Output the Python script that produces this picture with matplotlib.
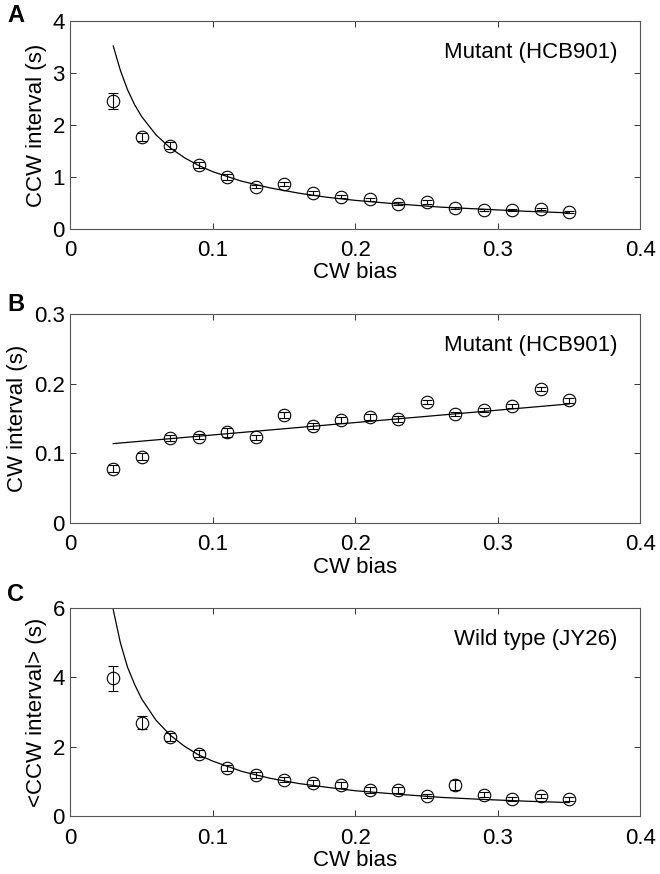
import numpy as np
import matplotlib
matplotlib.use("Agg")
import matplotlib.pyplot as plt
from matplotlib.ticker import FuncFormatter

plt.rcParams['font.family'] = ['Liberation Sans', 'DejaVu Sans']

# CW bias of each data point
bias = [0.03, 0.05, 0.07, 0.09, 0.11, 0.13, 0.15, 0.17, 0.19,
        0.21, 0.23, 0.25, 0.27, 0.29, 0.31, 0.33, 0.35]

# panel A: mutant CCW interval
ccw_mut = [2.46, 1.77, 1.60, 1.23, 1.00, 0.81, 0.86, 0.69, 0.62,
           0.57, 0.49, 0.52, 0.40, 0.36, 0.37, 0.39, 0.32]
ccw_mut_err = [0.16, 0.07, 0.07, 0.06, 0.05, 0.03, 0.04, 0.04, 0.03,
               0.03, 0.03, 0.03, 0.02, 0.02, 0.02, 0.02, 0.02]

# panel B: mutant CW interval
cw_mut = [0.078, 0.095, 0.122, 0.124, 0.130, 0.123, 0.155, 0.139, 0.148,
          0.152, 0.149, 0.174, 0.156, 0.162, 0.168, 0.193, 0.176]
cw_mut_err = [0.005, 0.005, 0.004, 0.004, 0.006, 0.004, 0.004, 0.004, 0.004,
              0.004, 0.004, 0.003, 0.003, 0.003, 0.003, 0.003, 0.003]

# panel C: wild type mean CCW interval
ccw_wt = [3.98, 2.70, 2.29, 1.81, 1.40, 1.19, 1.06, 0.96, 0.91,
          0.77, 0.77, 0.59, 0.91, 0.63, 0.51, 0.58, 0.50]
ccw_wt_err = [0.36, 0.18, 0.12, 0.10, 0.08, 0.08, 0.08, 0.08, 0.08,
              0.08, 0.08, 0.06, 0.14, 0.08, 0.06, 0.06, 0.06]

# fitted curves
fit_x = [0.03, 0.035, 0.04, 0.045, 0.05, 0.06, 0.07, 0.08, 0.09, 0.10,
         0.12, 0.14, 0.16, 0.18, 0.20, 0.23, 0.26, 0.29, 0.32, 0.35]
fit_a = [3.52, 3.05, 2.68, 2.39, 2.16, 1.81, 1.56, 1.37, 1.22, 1.10,
         0.92, 0.79, 0.69, 0.61, 0.55, 0.48, 0.42, 0.38, 0.34, 0.31]
fit_c = [5.95, 5.00, 4.30, 3.80, 3.38, 2.77, 2.34, 2.02, 1.77, 1.59,
         1.30, 1.10, 0.95, 0.84, 0.74, 0.64, 0.55, 0.49, 0.44, 0.40]
line_b_x = [0.03, 0.35]
line_b_y = [0.114, 0.171]

panels = [
    ('A', ccw_mut, ccw_mut_err, fit_x, fit_a, 'CCW interval (s)',
     'Mutant (HCB901)', 4, [0, 1, 2, 3, 4], 0.238, 0.738, 4),
    ('B', cw_mut, cw_mut_err, line_b_x, line_b_y, 'CW interval (s)',
     'Mutant (HCB901)', 0.3, [0, 0.1, 0.2, 0.3], 0.239, 0.4016, 293),
    ('C', ccw_wt, ccw_wt_err, fit_x, fit_c, '<CCW interval> (s)',
     'Wild type (JY26)', 6, [0, 2, 4, 6], 0.2386, 0.0658, 583),
]

fig = plt.figure(figsize=(6.6, 8.74), dpi=100)
fmt = FuncFormatter(lambda v, p: '0' if v == 0 else ('%g' % v))

for letter, y, err, fx, fy, ylab, note, ymax, yt, h, b, ltop in panels:
    ax = fig.add_axes([0.1068, b, 0.8636, h])
    ax.plot(fx, fy, color='black', lw=0.9)
    ax.errorbar(bias, y, yerr=err, fmt='o', mfc='none', mec='black',
                ms=9, mew=0.8, ecolor='black', elinewidth=0.8,
                capsize=3.5, capthick=0.8)
    ax.set_xlim(0, 0.4)
    ax.set_ylim(0, ymax)
    ax.set_xticks([0, 0.1, 0.2, 0.3, 0.4])
    ax.set_yticks(yt)
    ax.xaxis.set_major_formatter(fmt)
    ax.yaxis.set_major_formatter(fmt)
    ax.tick_params(direction='in', top=True, right=True, length=4,
                   width=0.7, labelsize=16, color='#333333', pad=4)
    ax.tick_params(axis='x', pad=8)
    for s in ax.spines.values():
        s.set_color('#555555')
        s.set_linewidth(0.8)
    ax.set_xlabel('CW bias', fontsize=16, labelpad=1)
    ax.set_ylabel(ylab, fontsize=16, labelpad=4)
    ax.text(0.96, 0.85, note, transform=ax.transAxes, ha='right',
            va='center', fontsize=16)
    fig.text(0.011, 1 - ltop / 874, letter, fontsize=17, fontweight='bold',
             ha='left', va='top')

fig.savefig('out.png', dpi=100)
